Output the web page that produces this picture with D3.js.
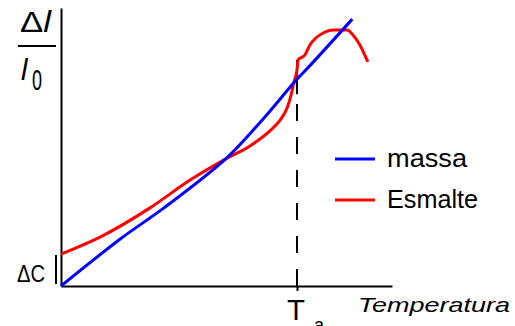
<!DOCTYPE html>
<html>
<head>
<meta charset="utf-8">
<script src="https://cdn.jsdelivr.net/npm/d3@7"></script>
<style>
  html, body { margin: 0; padding: 0; background: #fff; }
  svg { display: block; }
  text { font-family: "Liberation Sans", Arial, sans-serif; fill: #000; }
</style>
</head>
<body>
<svg id="chart" width="515" height="326"></svg>
<script>
// Dilatation curves: relative elongation vs temperature (arbitrary units 0–100)
const massaTemp   = [0, 18, 31, 50, 61, 71, 75, 88];
const massaDil    = [0, 17, 28, 46, 60, 74, 79, 96];

const esmalteTemp = [0, 11.8, 26.9, 39, 50.2, 57.1, 63.1, 66.2, 68.3, 69.5, 70.4, 71.3, 71.6, 73.7, 75.2, 77, 79.2, 82.2, 86.4, 88.2, 90.3, 92.7];
const esmalteDil  = [11.5, 17.6, 28.1, 38.1, 46, 50.4, 55.8, 59.7, 64, 68.7, 73.4, 77.7, 81.3, 83.1, 86.7, 89.2, 91, 92.1, 92.1, 90.3, 86.7, 80.6];

const seriesNames = ["massa", "Esmalte"];
const seriesColors = ["#0000ff", "#ff0000"];
const tA = 71.3;          // softening point T_a
const tAMarkTop = 81.3;   // top of the mark at T_a
const tASolidFrom = 69;   // dashed below, solid above
const deltaC = 11.5;      // offset of the enamel curve at the origin

const svg = d3.select("#chart");
const x = d3.scaleLinear().domain([0, 100]).range([61, 392]);
const y = d3.scaleLinear().domain([0, 100]).range([286, 8]);

// axes
svg.append("g")
  .attr("transform", `translate(0,${y(0)})`)
  .call(d3.axisBottom(x).tickValues([tA]).tickSize(5).tickSizeOuter(0).tickFormat(""));
svg.append("g")
  .attr("transform", `translate(${x(0)},0)`)
  .call(d3.axisLeft(y).tickValues([]).tickSizeOuter(0));
svg.selectAll(".domain, .tick line").attr("stroke", "#000").attr("stroke-width", 2);

// T_a marker: dashed from the axis, solid at the top
svg.append("line")
  .attr("x1", x(tA)).attr("x2", x(tA))
  .attr("y1", y(0)).attr("y2", y(tASolidFrom))
  .attr("stroke", "#000").attr("stroke-width", 2)
  .attr("stroke-dasharray", "17,16");
svg.append("line")
  .attr("x1", x(tA)).attr("x2", x(tA))
  .attr("y1", y(tASolidFrom)).attr("y2", y(tAMarkTop))
  .attr("stroke", "#000").attr("stroke-width", 2);

// curves
const lineBlue = d3.line().x(d => x(d[0])).y(d => y(d[1])).curve(d3.curveCatmullRom.alpha(0.5));
const lineRed = d3.line().x(d => x(d[0])).y(d => y(d[1])).curve(d3.curveMonotoneX);
const massa = d3.zip(massaTemp, massaDil);
const esmalte = d3.zip(esmalteTemp, esmalteDil);

svg.append("path").datum(esmalte)
  .attr("d", lineRed).attr("fill", "none")
  .attr("stroke", seriesColors[1]).attr("stroke-width", 3)
  .attr("stroke-linejoin", "round");
svg.append("path").datum(massa)
  .attr("d", lineBlue).attr("fill", "none")
  .attr("stroke", seriesColors[0]).attr("stroke-width", 3)
  .attr("stroke-linejoin", "round");

// ΔC bracket and label
svg.append("line")
  .attr("x1", 56).attr("x2", 56)
  .attr("y1", y(deltaC) + 1).attr("y2", y(0) - 2)
  .attr("stroke", "#000").attr("stroke-width", 2);
svg.append("text")
  .attr("x", 17).attr("y", 282)
  .attr("font-size", 24)
  .attr("textLength", 28).attr("lengthAdjust", "spacingAndGlyphs")
  .text("ΔC");

// y label: Δl / l0
const yl = svg.append("text").attr("x", 20).attr("y", 32).attr("font-size", 29)
  .attr("textLength", 31).attr("lengthAdjust", "spacingAndGlyphs");
yl.append("tspan").text("Δ");
yl.append("tspan").attr("font-style", "italic").text("l");
svg.append("line").attr("x1", 18).attr("x2", 56).attr("y1", 46).attr("y2", 46)
  .attr("stroke", "#000").attr("stroke-width", 2);
svg.append("text").attr("x", 21).attr("y", 80).attr("font-size", 29)
  .attr("font-style", "italic").text("l");
svg.append("text").attr("x", 32).attr("y", 90).attr("font-size", 30)
  .attr("textLength", 10).attr("lengthAdjust", "spacingAndGlyphs").text("0");

// x label
svg.append("text").attr("x", 358).attr("y", 312).attr("font-size", 21)
  .attr("font-style", "italic")
  .attr("textLength", 152).attr("lengthAdjust", "spacingAndGlyphs")
  .text("Temperatura");

// T_a label
const ta = svg.append("text").attr("x", 287).attr("y", 320).attr("font-size", 30);
ta.append("tspan").attr("textLength", 18).attr("lengthAdjust", "spacingAndGlyphs").text("T");
ta.append("tspan").attr("x", 314).attr("y", 331).attr("font-size", 18).text("a");

// legend
const legendY = [159, 200];
const legend = svg.append("g");
seriesNames.forEach((name, i) => {
  legend.append("line")
    .attr("x1", 335).attr("x2", 375)
    .attr("y1", legendY[i]).attr("y2", legendY[i])
    .attr("stroke", seriesColors[i]).attr("stroke-width", 3);
  legend.append("text")
    .attr("x", 387).attr("y", legendY[i] + 8)
    .attr("font-size", 26)
    .attr("textLength", i === 0 ? 80 : 91).attr("lengthAdjust", "spacingAndGlyphs")
    .text(name);
});
</script>
</body>
</html>
